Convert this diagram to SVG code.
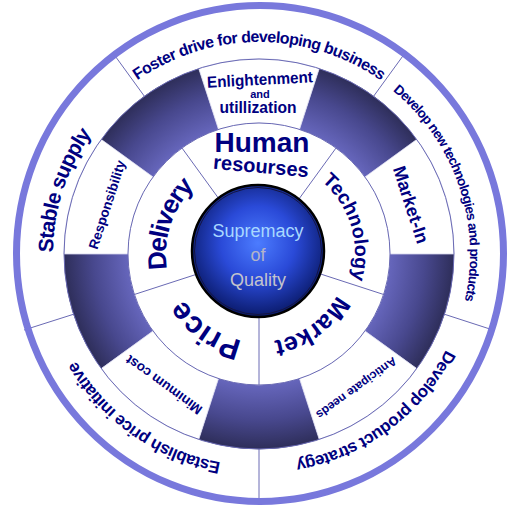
<svg xmlns="http://www.w3.org/2000/svg" xmlns:xlink="http://www.w3.org/1999/xlink" width="507" height="505" viewBox="0 0 507 505">
<style>
.t{font-family:"Liberation Sans",Arial,sans-serif;font-weight:bold;fill:#000080}
.c{font-family:"Liberation Sans",Arial,sans-serif;font-size:18px;text-anchor:middle}
.sec{fill:#fff}
.box{fill:#fff;stroke:#d4d4ee;stroke-width:0.8}
.dark{fill:url(#dark)}
.ln{fill:none;stroke:#6a6ab4;stroke-width:1}
</style>
<defs>
<radialGradient id="dark" gradientUnits="userSpaceOnUse" cx="259" cy="254" r="195">
<stop offset="0.67" stop-color="#6666bc"/>
<stop offset="0.85" stop-color="#48488e"/>
<stop offset="1" stop-color="#2e2e5a"/>
</radialGradient>
<radialGradient id="core" cx="50%" cy="44%" r="56%">
<stop offset="0" stop-color="#4c7cff"/>
<stop offset="0.5" stop-color="#2a4ad8"/>
<stop offset="1" stop-color="#0a1a6a"/>
</radialGradient>
<path id="p212" d="M259,466 A212,212 0 1 1 259,42 A212,212 0 1 1 259,466"/>
<path id="p211" d="M259,465 A211,211 0 1 1 259,43 A211,211 0 1 1 259,465"/>
<path id="p210" d="M259,464 A210,210 0 1 1 259,44 A210,210 0 1 1 259,464"/>
<path id="p206" d="M259,460 A206,206 0 1 1 259,48 A206,206 0 1 1 259,460"/>
<path id="p96" d="M259,350 A96,96 0 1 1 259,158 A96,96 0 1 1 259,350"/>
<path id="p93" d="M259,347 A93,93 0 1 1 259,161 A93,93 0 1 1 259,347"/>
<path id="p88" d="M259,342 A88,88 0 1 1 259,166 A88,88 0 1 1 259,342"/>
</defs>
<ellipse cx="260" cy="253.5" rx="243.5" ry="248" fill="#fff"/>

<!-- outer ring -->
<g id="foster">
<path class="sec" d="M115.58,56.6 A244,244 0 0 1 402.42,56.6 L373.62,96.24 A195,195 0 0 0 144.38,96.24Z"/>
<text class="t" font-size="16" letter-spacing="-0.6" text-anchor="middle"><textPath href="#p212" xlink:href="#p212" startOffset="50%">Foster drive for developing business</textPath></text>
</g>
<g id="devtech">
<path class="sec" d="M402.42,56.6 A244,244 0 0 1 491.07,329.4 L444.46,314.26 A195,195 0 0 0 373.62,96.24Z"/>
<text class="t" font-size="13.5" letter-spacing="-0.7" text-anchor="middle"><textPath href="#p211" xlink:href="#p211" startOffset="69.72%">Develop new technologies and products</textPath></text>
</g>
<g id="devprod">
<path class="sec" d="M491.07,329.4 A244,244 0 0 1 259,498 L259,449 A195,195 0 0 0 444.46,314.26Z"/>
<text class="t" font-size="17" letter-spacing="-0.5" text-anchor="middle"><textPath href="#p210" xlink:href="#p210" startOffset="89.86%">Develop product strategy</textPath></text>
</g>
<g id="establish">
<path class="sec" d="M259,498 A244,244 0 0 1 26.93,329.4 L73.54,314.26 A195,195 0 0 0 259,449Z"/>
<text class="t" font-size="17" letter-spacing="-0.5" text-anchor="middle"><textPath href="#p212" xlink:href="#p212" startOffset="9.72%">Establish price initiative</textPath></text>
</g>
<g id="stable">
<path class="sec" d="M26.93,329.4 A244,244 0 0 1 115.58,56.6 L144.38,96.24 A195,195 0 0 0 73.54,314.26Z"/>
<text class="t" font-size="21" letter-spacing="-0.8" text-anchor="middle"><textPath href="#p206" xlink:href="#p206" startOffset="30%">Stable supply</textPath></text>
</g>

<!-- middle ring dark segments -->
<g id="bands">
<path class="dark" d="M319.26,68.54 A195,195 0 0 1 416.76,139.38 L364.98,177 A131,131 0 0 0 299.48,129.41Z"/>
<path class="dark" d="M454,254 A195,195 0 0 1 416.76,368.62 L364.98,331 A131,131 0 0 0 390,254Z"/>
<path class="dark" d="M319.26,439.46 A195,195 0 0 1 198.74,439.46 L218.52,378.59 A131,131 0 0 0 299.48,378.59Z"/>
<path class="dark" d="M101.24,368.62 A195,195 0 0 1 64,254 L128,254 A131,131 0 0 0 153.02,331Z"/>
<path class="dark" d="M101.24,139.38 A195,195 0 0 1 198.74,68.54 L218.52,129.41 A131,131 0 0 0 153.02,177Z"/>
</g>

<!-- middle ring boxes -->
<g id="enlightenment">
<path class="box" d="M198.74,68.54 A195,195 0 0 1 319.26,68.54 L299.48,129.41 A131,131 0 0 0 218.52,129.41Z"/>
<g transform="rotate(-3 260 80)">
<text class="t" font-size="16" text-anchor="middle" x="260" y="85" textLength="106" lengthAdjust="spacingAndGlyphs">Enlightenment</text>
</g>
<text class="t" font-size="11" text-anchor="middle" x="260" y="98">and</text>
<text class="t" font-size="16" text-anchor="middle" x="258" y="112.5" textLength="77" lengthAdjust="spacingAndGlyphs">utillization</text>
</g>
<g id="marketin">
<path class="box" d="M416.76,139.38 A195,195 0 0 1 454,254 L390,254 A131,131 0 0 0 364.98,177Z"/>
<text class="t" font-size="18" text-anchor="middle" transform="translate(411.18,204.56) rotate(72)" y="6.5">Market-In</text>
</g>
<g id="anticipate">
<path class="box" d="M416.76,368.62 A195,195 0 0 1 319.26,439.46 L299.48,378.59 A131,131 0 0 0 364.98,331Z"/>
<text class="t" font-size="12" text-anchor="middle" transform="translate(356.57,388.29) rotate(144)" y="4.3">Anticipate needs</text>
</g>
<g id="mincost">
<path class="box" d="M198.74,439.46 A195,195 0 0 1 101.24,368.62 L153.02,331 A131,131 0 0 0 218.52,378.59Z"/>
<text class="t" font-size="13.5" text-anchor="middle" transform="translate(163.78,385.06) rotate(216)" y="4.8">Minimum cost</text>
</g>
<g id="responsibility">
<path class="box" d="M64,254 A195,195 0 0 1 101.24,139.38 L153.02,177 A131,131 0 0 0 128,254Z"/>
<text class="t" font-size="13.5" text-anchor="middle" transform="translate(106.82,204.56) rotate(-72)" y="4.8">Responsibility</text>
</g>

<!-- inner ring -->
<g id="human">
<path class="sec" d="M182,148.02 A131,131 0 0 1 336,148.02 L297.79,200.61 A66,66 0 0 0 220.21,200.61Z"/>
<text class="t" font-size="28" text-anchor="middle" x="262" y="152">Human</text>
<text class="t" font-size="20" text-anchor="middle" x="261" y="173" transform="rotate(5 261 167)">resourses</text>
</g>
<g id="technology">
<path class="sec" d="M336,148.02 A131,131 0 0 1 383.59,294.48 L321.77,274.39 A66,66 0 0 0 297.79,200.61Z"/>
<text class="t" font-size="19.5" text-anchor="middle"><textPath href="#p96" xlink:href="#p96" startOffset="70.28%">Technology</textPath></text>
</g>
<g id="market">
<path class="sec" d="M383.59,294.48 A131,131 0 0 1 259,385 L259,320 A66,66 0 0 0 321.77,274.39Z"/>
<text class="t" font-size="25" text-anchor="middle"><textPath href="#p88" xlink:href="#p88" startOffset="90%">Market</textPath></text>
</g>
<g id="price">
<path class="sec" d="M259,385 A131,131 0 0 1 134.41,294.48 L196.23,274.39 A66,66 0 0 0 259,320Z"/>
<text class="t" font-size="30" text-anchor="middle"><textPath href="#p88" xlink:href="#p88" startOffset="9.72%">Price</textPath></text>
</g>
<g id="delivery">
<path class="sec" d="M134.41,294.48 A131,131 0 0 1 182,148.02 L220.21,200.61 A66,66 0 0 0 196.23,274.39Z"/>
<text class="t" font-size="26" letter-spacing="-1.5" text-anchor="middle"><textPath href="#p93" xlink:href="#p93" startOffset="30%">Delivery</textPath></text>
</g>

<!-- connectors: ring boundaries and dividers -->
<g id="connectors">
<circle class="ln" cx="259" cy="254" r="131"/>
<circle class="ln" cx="259" cy="254" r="195"/>
<line class="ln" x1="294.27" y1="205.46" x2="336" y2="148.02"/>
<line class="ln" x1="316.07" y1="272.54" x2="383.59" y2="294.48"/>
<line class="ln" x1="259" y1="314" x2="259" y2="385"/>
<line class="ln" x1="201.93" y1="272.54" x2="134.41" y2="294.48"/>
<line class="ln" x1="223.73" y1="205.46" x2="182" y2="148.02"/>
<line class="ln" x1="373.62" y1="96.24" x2="403.6" y2="54.99"/>
<line class="ln" x1="444.46" y1="314.26" x2="492.97" y2="330.01"/>
<line class="ln" x1="259" y1="449" x2="259" y2="500"/>
<line class="ln" x1="73.54" y1="314.26" x2="24.03" y2="330.01"/>
<line class="ln" x1="144.38" y1="96.24" x2="114.4" y2="54.99"/>
</g>

<ellipse cx="260" cy="253.5" rx="243.5" ry="248" fill="none" stroke="#7878dc" stroke-width="7"/>

<!-- center -->
<g id="center">
<circle cx="258" cy="251" r="66" fill="url(#core)" stroke="#000" stroke-width="2.5"/>
<circle cx="258" cy="251" r="63.5" fill="none" stroke="#141440" stroke-width="1"/>
<text class="c" x="258" y="237" fill="#a8d8ff">Supremacy</text>
<text class="c" x="258" y="261" fill="#b4b4c8">of</text>
<text class="c" x="258" y="286" fill="#c4c4cc">Quality</text>
</g>
</svg>
